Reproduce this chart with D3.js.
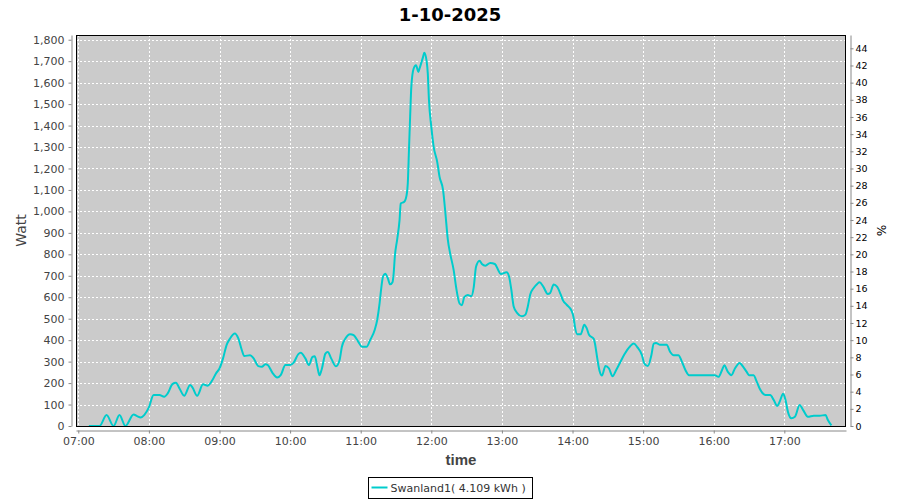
<!DOCTYPE html>
<html>
<head>
<meta charset="utf-8">
<script src="https://cdn.jsdelivr.net/npm/d3@7"></script>
<style>
  body { margin: 0; background: #fff; }
  svg { display: block; }
</style>
</head>
<body>
<svg width="900" height="500"></svg>
<script>
// ~~~~~~ DATA ~~~~~~
var title = "1-10-2025";
var seriesName = "Swanland1( 4.109 kWh )";

var times = [
  "07:09","07:18","07:24","07:30","07:35","07:40","07:47","07:50","07:53","07:56",
  "08:00","08:04","08:09","08:13","08:16","08:20","08:23","08:26","08:30","08:35",
  "08:37","08:41","08:46","08:50","08:54","08:57","09:00","09:03","09:06","09:09",
  "09:13","09:16","09:19","09:21","09:26","09:29","09:33","09:36","09:39","09:41",
  "09:45","09:49","09:52","09:56","10:00","10:03","10:07","10:09","10:13","10:16",
  "10:19","10:21","10:23","10:25","10:27","10:30","10:32","10:35","10:39","10:42",
  "10:44","10:47","10:51","10:54","10:58","11:01","11:05","11:08","11:12","11:14",
  "11:16","11:17","11:19","11:21","11:23","11:25","11:27","11:28","11:29","11:31",
  "11:33","11:34","11:37","11:39","11:40","11:41","11:42","11:43","11:45","11:47",
  "11:49","11:50","11:53","11:54","11:56","11:57","11:58","12:00","12:02","12:05",
  "12:07","12:10","12:12","12:14","12:16","12:19","12:21","12:24","12:26","12:28",
  "12:31","12:34","12:36","12:38","12:41","12:43","12:46","12:50","12:54","12:57",
  "12:59","13:04","13:06","13:08","13:10","13:13","13:17","13:20","13:22","13:24",
  "13:27","13:30","13:32","13:35","13:39","13:41","13:44","13:47","13:50","13:52",
  "13:55","13:59","14:01","14:02","14:04","14:07","14:10","14:12","14:14","14:18",
  "14:19","14:21","14:23","14:25","14:28","14:31","14:34","14:37","14:40","14:44",
  "14:49","14:52","14:55","14:59","15:01","15:04","15:07","15:09","15:11","15:14",
  "15:20","15:23","15:26","15:30","15:33","15:36","15:39","15:44","15:48","15:53",
  "15:57","16:01","16:04","16:07","16:09","16:12","16:15","16:18","16:22","16:24",
  "16:28","16:30","16:34","16:36","16:39","16:44","16:48","16:51","16:54","16:56",
  "16:59","17:01","17:03","17:06","17:09","17:13","17:16","17:20","17:25","17:30",
  "17:35","17:37","17:40"
];

var watts = [
  0,0,51,0,51,0,54,46,40,51,
  87,144,144,136,152,195,201,175,141,191,
  180,141,194,188,214,245,268,315,377,408,
  431,408,353,326,330,315,279,276,288,284,
  248,226,237,284,284,295,335,341,315,284,
  322,325,280,236,267,337,345,314,278,306,
  369,408,428,423,392,369,369,400,450,494,
  570,620,697,709,689,660,670,711,790,870,
  959,1037,1045,1076,1130,1285,1441,1580,1666,1681,
  1650,1666,1720,1739,1700,1643,1518,1394,1301,1231,
  1161,1099,990,870,804,726,649,571,563,600,
  610,605,645,742,770,755,747,760,755,725,
  708,716,698,635,557,526,511,519,557,612,
  643,662,670,651,615,620,659,648,612,584,
  565,539,503,464,428,428,472,456,425,406,
  386,316,256,235,280,268,232,260,291,333,
  372,384,368,330,291,280,330,384,387,379,
  379,345,330,330,299,260,237,237,237,237,
  237,237,229,260,283,252,237,268,294,283,
  252,237,237,214,175,144,144,121,93,113,
  150,121,67,36,43,98,74,43,48,48,
  51,28,3
];

var hourTicks = ["07:00","08:00","09:00","10:00","11:00","12:00","13:00","14:00","15:00","16:00","17:00"];
var wattTicks = [0,100,200,300,400,500,600,700,800,900,1000,1100,1200,1300,1400,1500,1600,1700,1800];
var pctTicks = [0,2,4,6,8,10,12,14,16,18,20,22,24,26,28,30,32,34,36,38,40,42,44];

// ~~~~~~ LAYOUT ~~~~~~
var svg = d3.select("svg");
var plot = {left: 76, top: 35, right: 846, bottom: 426};
var axisGap = 4;
var lineColor = "#00cccc";

var parseTime = d3.timeParse("%H:%M:%S");
var points = times.map(function(t, i) {
  return {time: parseTime(t + ":00"), watt: watts[i]};
});

// ~~~~~~ SCALES ~~~~~~
var x = d3.scaleTime()
  .domain([parseTime("06:58:03"), parseTime("17:52:24")])
  .range([plot.left, plot.right]);
var y = d3.scaleLinear().domain([0, 1822]).range([plot.bottom, plot.top]);
var yPct = d3.scaleLinear().domain([0, 1822 / 40]).range([plot.bottom, plot.top]);

svg.append("rect").attr("width", 900).attr("height", 500).attr("fill", "#fff");

// Title
svg.append("text")
  .attr("x", 450)
  .attr("y", 21)
  .attr("text-anchor", "middle")
  .style("font", "bold 18px 'DejaVu Sans'")
  .attr("fill", "#000")
  .text(title);

// Plot background
svg.append("rect")
  .attr("x", plot.left)
  .attr("y", plot.top)
  .attr("width", plot.right - plot.left)
  .attr("height", plot.bottom - plot.top)
  .attr("fill", "#cbcbcb");

// Grid lines
var grid = svg.append("g").attr("class", "grid");
grid.selectAll(".hgrid")
  .data(wattTicks)
  .enter()
  .append("line")
  .attr("x1", plot.left).attr("x2", plot.right)
  .attr("y1", function(d) { return Math.round(y(d)) + 0.5; })
  .attr("y2", function(d) { return Math.round(y(d)) + 0.5; })
  .attr("stroke", "#fff")
  .attr("stroke-dasharray", "2,2");

grid.selectAll(".vgrid")
  .data(hourTicks)
  .enter()
  .append("line")
  .attr("x1", function(d) { return Math.round(x(parseTime(d + ":00"))) + 0.5; })
  .attr("x2", function(d) { return Math.round(x(parseTime(d + ":00"))) + 0.5; })
  .attr("y1", plot.top).attr("y2", plot.bottom)
  .attr("stroke", "#fff")
  .attr("stroke-dasharray", "2,2");

// Series line
svg.append("clipPath").attr("id", "clip")
  .append("rect")
  .attr("x", plot.left).attr("y", plot.top)
  .attr("width", plot.right - plot.left).attr("height", plot.bottom - plot.top);

var drawLine = d3.line()
  .x(function(d) { return x(d.time); })
  .y(function(d) { return y(d.watt); })
  .curve(d3.curveMonotoneX);

svg.append("path")
  .datum(points)
  .attr("clip-path", "url(#clip)")
  .attr("fill", "none")
  .attr("stroke", lineColor)
  .attr("stroke-width", 2)
  .attr("stroke-linejoin", "round")
  .attr("d", drawLine);

// Plot border
svg.append("rect")
  .attr("x", plot.left + 0.5)
  .attr("y", plot.top + 0.5)
  .attr("width", plot.right - plot.left - 1)
  .attr("height", plot.bottom - plot.top)
  .attr("fill", "none")
  .attr("stroke", "#000");

// ~~~~~~ AXES ~~~~~~
function styleAxis(g, color, font) {
  g.select(".domain").attr("stroke", "#888");
  g.selectAll(".tick line").attr("stroke", "#888");
  g.selectAll(".tick text").attr("fill", color).style("font", font);
}

var leftAxis = svg.append("g")
  .attr("transform", "translate(" + (plot.left - axisGap - 0.5) + ",0)")
  .call(d3.axisLeft(y).tickValues(wattTicks).tickFormat(d3.format(",")).tickSizeInner(3).tickSizeOuter(0).tickPadding(4));
styleAxis(leftAxis, "#444", "11px 'DejaVu Sans'");

var rightAxis = svg.append("g")
  .attr("transform", "translate(" + (plot.right + axisGap + 0.5) + ",0)")
  .call(d3.axisRight(yPct).tickValues(pctTicks).tickSizeInner(3).tickSizeOuter(0).tickPadding(2));
styleAxis(rightAxis, "#000", "9.5px 'DejaVu Sans'");

var bottomAxis = svg.append("g")
  .attr("transform", "translate(0," + (plot.bottom + axisGap + 0.5) + ")")
  .call(d3.axisBottom(x)
    .tickValues(hourTicks.map(function(d) { return parseTime(d + ":00"); }))
    .tickFormat(d3.timeFormat("%H:%M"))
    .tickSizeInner(3).tickSizeOuter(0).tickPadding(4));
styleAxis(bottomAxis, "#444", "11px 'DejaVu Sans'");

// Axis labels
svg.append("text")
  .attr("x", (plot.left + plot.right) / 2)
  .attr("y", 465)
  .attr("text-anchor", "middle")
  .style("font", "bold 15px 'Liberation Sans'")
  .attr("fill", "#444")
  .text("time");

svg.append("text")
  .attr("transform", "translate(26," + ((plot.top + plot.bottom) / 2) + ") rotate(-90)")
  .attr("text-anchor", "middle")
  .style("font", "14px 'DejaVu Sans'")
  .attr("fill", "#444")
  .text("Watt");

svg.append("text")
  .attr("transform", "translate(877," + ((plot.top + plot.bottom) / 2) + ") rotate(90)")
  .attr("text-anchor", "middle")
  .style("font", "12px 'DejaVu Sans'")
  .attr("fill", "#000")
  .text("%");

// ~~~~~~ LEGEND ~~~~~~
var legend = svg.append("g").attr("transform", "translate(368.5,477.5)");
legend.append("rect")
  .attr("width", 164)
  .attr("height", 21)
  .attr("fill", "#fff")
  .attr("stroke", "#000");
legend.append("line")
  .attr("x1", 3).attr("x2", 19)
  .attr("y1", 10).attr("y2", 10)
  .attr("stroke", lineColor)
  .attr("stroke-width", 2);
legend.append("text")
  .attr("x", 22)
  .attr("y", 14.5)
  .style("font", "11px 'DejaVu Sans'")
  .attr("fill", "#333")
  .text(seriesName);
</script>
</body>
</html>
